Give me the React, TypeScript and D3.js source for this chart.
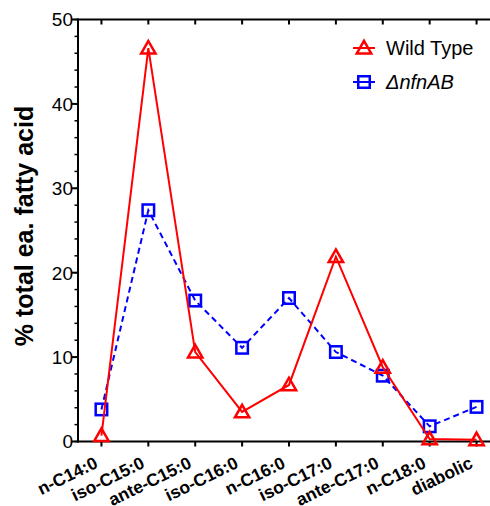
import React from "react";
import * as d3 from "d3";

const categories = ["n-C14:0", "iso-C15:0", "ante-C15:0", "iso-C16:0", "n-C16:0", "iso-C17:0", "ante-C17:0", "n-C18:0", "diabolic"];
const wildType = [0.7, 46.6, 10.6, 3.5, 6.7, 21.9, 8.8, 0.3, 0.2];
const nfnAB = [3.8, 27.4, 16.7, 11.1, 17.0, 10.6, 7.8, 1.8, 4.1];
const yTicks = [0, 10, 20, 30, 40, 50];
const yMinorTicks = d3.range(0, 51, 2);

const W = 490, H = 506;
const left = 78, top = 19.5, bottom = 441.5, right = 500;

export default function App() {
  const x = d3.scalePoint<string>().domain(categories).range([left, right]).padding(0.5);
  const y = d3.scaleLinear().domain([0, 50]).range([bottom, top]);
  const line = d3.line<number>().x((_, i) => x(categories[i])!).y(d => y(d));

  const tri = (cx: number, cy: number) => {
    const s = 7.2;
    return `M${cx},${cy - s * 1.0}L${cx + s},${cy + s * 0.75}L${cx - s},${cy + s * 0.75}Z`;
  };
  const sq = 11.5;

  return (
    <svg width={W} height={H} style={{ position: "absolute", left: 0, top: 0, background: "#fff" }} fontFamily="'Liberation Sans', Arial, sans-serif">
      {/* axes */}
      <line x1={left} x2={W} y1={bottom} y2={bottom} stroke="#000" strokeWidth={2} />
      <line x1={left} x2={W} y1={top} y2={top} stroke="#000" strokeWidth={2} />
      <line x1={left} x2={left} y1={top - 1} y2={bottom + 1} stroke="#000" strokeWidth={2} />
      {yMinorTicks.map(t => (
        <line key={"m" + t} x1={left - 3.5} x2={left} y1={y(t)} y2={y(t)} stroke="#000" strokeWidth={1.5} />
      ))}
      {yTicks.map(t => (
        <g key={t}>
          <line x1={left - 6} x2={left} y1={y(t)} y2={y(t)} stroke="#000" strokeWidth={2} />
          <text x={left - 5} y={y(t)} dy="0.36em" textAnchor="end" fontSize={19}>{t}</text>
        </g>
      ))}
      {categories.map(c => (
        <g key={c}>
          <line x1={x(c)} x2={x(c)} y1={bottom} y2={bottom + 5} stroke="#000" strokeWidth={2} />
          <line x1={x(c)} x2={x(c)} y1={top} y2={top + 5} stroke="#000" strokeWidth={2} />
          <text transform={`translate(${x(c)! - 2.5},${467}) rotate(-26)`} textAnchor="end" fontSize={17.5} fontWeight="bold">{c}</text>
        </g>
      ))}
      <text transform={`translate(33,226) rotate(-90)`} textAnchor="middle" fontSize={25} fontWeight="bold">% total ea. fatty acid</text>

      {/* nfnAB series */}
      <path d={line(nfnAB)!} fill="none" stroke="#0000ff" strokeWidth={2} strokeDasharray="6,4" />
      {nfnAB.map((v, i) => (
        <rect key={i} x={x(categories[i])! - sq / 2} y={y(v) - sq / 2} width={sq} height={sq} fill="none" stroke="#0000ff" strokeWidth={2.5} />
      ))}
      {/* wild type series */}
      <path d={line(wildType)!} fill="none" stroke="#ff0000" strokeWidth={2} />
      {wildType.map((v, i) => (
        <path key={i} d={tri(x(categories[i])!, y(v))} fill="none" stroke="#ff0000" strokeWidth={2.5} />
      ))}

      {/* legend */}
      <line x1={353} x2={375} y1={48} y2={48} stroke="#ff0000" strokeWidth={2} />
      <path d={tri(364, 48)} fill="none" stroke="#ff0000" strokeWidth={2.5} />
      <text x={386} y={48} dy="0.36em" fontSize={20}>Wild Type</text>
      <line x1={353} x2={375} y1={82} y2={82} stroke="#0000ff" strokeWidth={2} />
      <rect x={364 - sq / 2} y={82 - sq / 2} width={sq} height={sq} fill="none" stroke="#0000ff" strokeWidth={2.5} />
      <text x={386} y={82} dy="0.36em" fontSize={20} fontStyle="italic">ΔnfnAB</text>
    </svg>
  );
}
